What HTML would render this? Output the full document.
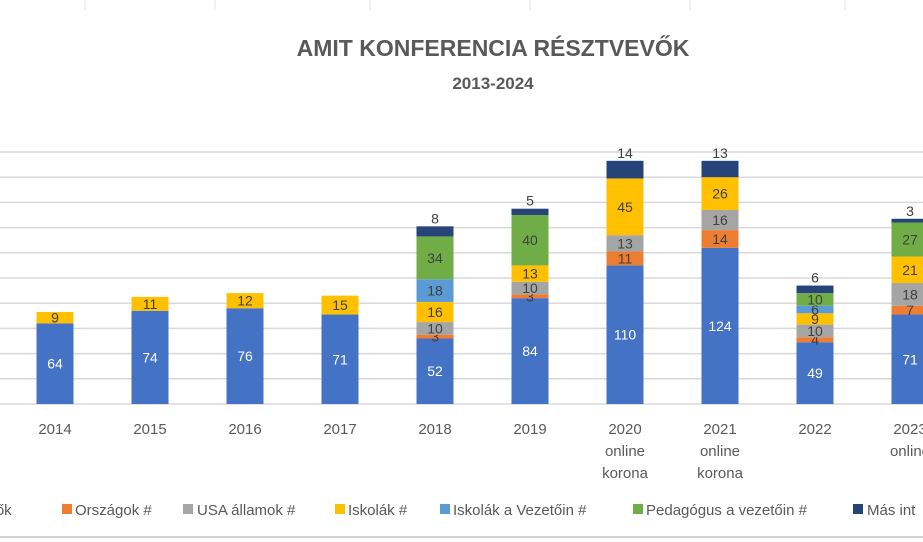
<!DOCTYPE html>
<html><head><meta charset="utf-8">
<style>
html,body{margin:0;padding:0;background:#fff;width:923px;height:542px;overflow:hidden;font-family:"Liberation Sans",sans-serif}
svg text{font-family:"Liberation Sans",sans-serif}
</style></head>
<body>
<svg id="chart" width="923" height="542" viewBox="0 0 923 542">
  <g stroke="#e6e6e6" stroke-width="1">
    <line x1="85" y1="0" x2="85" y2="10"/><line x1="215" y1="0" x2="215" y2="10"/>
    <line x1="370" y1="0" x2="370" y2="10"/><line x1="530" y1="0" x2="530" y2="10"/>
    <line x1="690" y1="0" x2="690" y2="10"/><line x1="845" y1="0" x2="845" y2="10"/>
    <line x1="0" y1="537" x2="923" y2="537" stroke="#d0d0d0" stroke-width="2"/>
  </g>
  <text x="493" y="56" text-anchor="middle" font-size="23" font-weight="bold" fill="#595959">AMIT KONFERENCIA RÉSZTVEVŐK</text>
  <text x="493" y="89" text-anchor="middle" font-size="17" font-weight="bold" fill="#595959">2013-2024</text>
  <g id="grid"></g>
  <g id="bars"></g>
  <g id="xlabels"></g>
  <g id="legend"></g>
</svg>
<script>
const categories = [["2014"],["2015"],["2016"],["2017"],["2018"],["2019"],["2020","online","korona"],["2021","online","korona"],["2022"],["2023","online"]];
const seriesNames = ["Résztvevők","Országok #","USA államok #","Iskolák #","Iskolák a Vezetőin #","Pedagógus a vezetőin #","Más int"];
const resztvevok = [64,74,76,71,52,84,110,124,49,71];
const orszagok   = [0,0,0,0,3,3,11,14,4,7];
const usaAllamok = [0,0,0,0,10,10,13,16,10,18];
const iskolak    = [9,11,12,15,16,13,45,26,9,21];
const iskolakVez = [0,0,0,0,18,0,0,0,6,0];
const pedagogus  = [0,0,0,0,34,40,0,0,10,27];
const masInt     = [0,0,0,0,8,5,14,13,6,3];
const yTicks = [0,20,40,60,80,100,120,140,160,180,200];

const series = [resztvevok,orszagok,usaAllamok,iskolak,iskolakVez,pedagogus,masInt];
const colors = ["#4472c4","#ed7d31","#a5a5a5","#ffc000","#5b9bd5","#70ad47","#264478"];
const NS="http://www.w3.org/2000/svg";
const baseY=404, pxPerUnit=1.26, x0=55, step=95, bw=37;
const y=v=>baseY-v*pxPerUnit;
const xc=i=>x0+i*step;
function mk(tag,attrs,parent){const e=document.createElementNS(NS,tag);for(const k in attrs)e.setAttribute(k,attrs[k]);parent.appendChild(e);return e;}

const grid=document.getElementById('grid');
yTicks.forEach(t=>{
  const l=mk('line',{x1:0,x2:923,y1:y(t),y2:y(t),stroke:'#d9d9d9','stroke-width':1.5},grid);
  
  
});

const bars=document.getElementById('bars');
categories.forEach((c,i)=>{
  let acc=0;
  series.forEach((s,k)=>{
    const v=s[i]; if(!v) return;
    const top=y(acc+v), bot=y(acc);
    const r=mk('rect',{x:xc(i)-bw/2,y:top,width:bw,height:bot-top,fill:colors[k]},bars);
    
    
    let ty=(top+bot)/2+5;
    if(k===6) ty=top-3;
    const t=mk('text',{x:xc(i),y:ty,'text-anchor':'middle','font-size':14,fill:k===0?'#ffffff':'#404040'},bars);
    t.textContent=v;
    
    
    acc+=v;
  });
});

const xl=document.getElementById('xlabels');
categories.forEach((c,i)=>{
  c.forEach((line,j)=>{
    const t=mk('text',{x:xc(i),y:434+j*22,'text-anchor':'middle','font-size':15,fill:'#595959'},xl);
    t.textContent=line;
    
    
  });
});

const lg=document.getElementById('legend');
const legendPos=[[-35,-20],[62,75],[183,197],[335,348],[440,453],[633,646],[853,867]];
seriesNames.forEach((n,k)=>{
  const [mx,tx]=legendPos[k];
  const g=mk('g',{},lg);
  
  
  mk('rect',{x:mx,y:504,width:10,height:10,fill:colors[k]},g);
  const t=mk('text',{x:tx,y:515,'font-size':15,fill:'#595959'},g);
  t.textContent=k===0?'evők':n;
});
</script>
</body></html>
